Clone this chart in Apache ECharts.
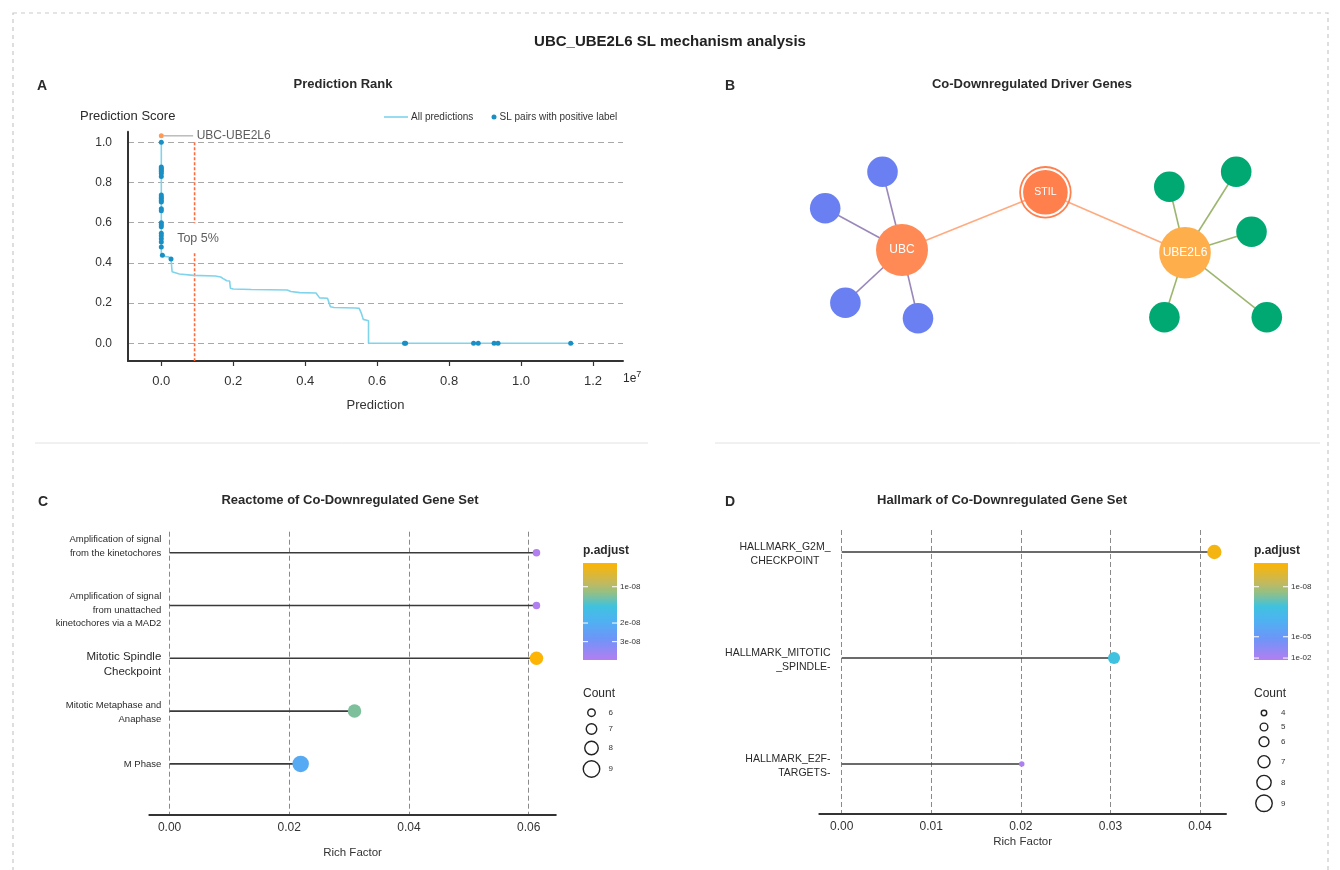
<!DOCTYPE html>
<html><head><meta charset="utf-8">
<script src="https://cdn.jsdelivr.net/npm/echarts@6/dist/echarts.min.js"></script>
<style>html,body{margin:0;padding:0;background:#fff}#c{width:1340px;height:870px}</style>
</head><body><div id="c"></div>
<script>
// ================= DATA =================
// Panel A (prediction rank; x in units of 1e7)
const curveX = [0,0,0.003,0.012,0.02,0.022,0.027,0.03,0.03,0.05,0.09,0.15,0.165,0.172,0.182,0.19,0.192,0.2,0.25,0.35,0.36,0.385,0.43,0.44,0.462,0.47,0.48,0.54,0.55,0.556,0.5615,0.576,0.576,1.14];
const curveY = [1.0,0.44,0.437,0.432,0.43,0.425,0.42,0.415,0.356,0.345,0.338,0.335,0.33,0.322,0.311,0.31,0.274,0.27,0.268,0.265,0.258,0.252,0.25,0.226,0.224,0.182,0.178,0.176,0.174,0.15,0.119,0.112,0.0,0.0];
const posX = [0,0,0,0,0,0,0,0,0,0,0,0,0,0,0,0,0,0,0,0,0,0,0.003,0.027,0.676,0.679,0.868,0.881,0.925,0.936,1.138];
const posY = [1.0,0.877,0.87,0.862,0.855,0.845,0.83,0.738,0.728,0.72,0.71,0.703,0.67,0.66,0.6,0.59,0.58,0.547,0.535,0.52,0.504,0.479,0.438,0.42,0,0,0,0,0,0,0];
const queryPair = {name: 'UBC-UBE2L6', x: 0, y: 1.032};
const top5Rank = 0.0925;
const top5Label = 'Top 5%';
const xTicksA = [0,0.2,0.4,0.6,0.8,1.0,1.2];
const yTicksA = [0,0.2,0.4,0.6,0.8,1.0];

// Panel B (network)
const nodeNames = ['UBC','STIL','UBE2L6','B1','B2','B3','B4','G1','G2','G3','G4','G5'];
const nodeKinds = ['hubA','link','hubB','blue','blue','blue','blue','green','green','green','green','green'];
const nodeLayoutX = [902,1045.4,1185,882.5,825.2,845.4,918,1169.3,1236.2,1251.5,1164.4,1266.8];
const nodeLayoutY = [250,192.3,252.7,171.7,208.3,302.7,318.3,186.7,171.7,231.7,317.3,317.3];
const edgeSource = ['UBC','STIL','B1','B2','B3','B4','G1','G2','G3','G4','G5'];
const edgeTarget = ['STIL','UBE2L6','UBC','UBC','UBC','UBC','UBE2L6','UBE2L6','UBE2L6','UBE2L6','UBE2L6'];

// Panel C (Reactome)
const catC = ['Amplification of signal\nfrom the kinetochores','Amplification of signal\nfrom unattached\nkinetochores via a MAD2','Mitotic Spindle\nCheckpoint','Mitotic Metaphase and\nAnaphase','M Phase'];
const richFactorC = [0.0613,0.0613,0.0613,0.0309,0.0219];
const pAdjC = [4.4e-8,4.4e-8,6.5e-9,1.2e-8,2.1e-8];
const countC = [6,6,8,8,9];
const xTicksC = [0,0.02,0.04,0.06];
const pTicksC = [1e-8,2e-8,3e-8];
const pTickLabelsC = ['1e-08','2e-08','3e-08'];
const countLegendC = [6,7,8,9];

// Panel D (Hallmark)
const catD = ['HALLMARK_G2M_\nCHECKPOINT','HALLMARK_MITOTIC\n_SPINDLE-','HALLMARK_E2F-\nTARGETS-'];
const richFactorD = [0.0416,0.0304,0.0201];
const pAdjD = [6e-10,1.6e-7,9.5e-3];
const countD = [8,7,4];
const xTicksD = [0,0.01,0.02,0.03,0.04];
const pTicksD = [1e-8,1e-5,1e-2];
const pTickLabelsD = ['1e-08','1e-05','1e-02'];
const countLegendD = [4,5,6,7,8,9];

// ================= STYLE / SCALES =================
const FF = '"Liberation Sans", Arial, Helvetica, sans-serif';
const TXT = '#2a2a2a';
const gradStops = [[0,'#ffb400'],[0.2,'#c4b95c'],[0.3,'#97bf82'],[0.45,'#3fc2df'],[0.6,'#4fb1f2'],[0.78,'#6d95f8'],[1,'#b37ef0']];
function hex2rgb(h){return [parseInt(h.slice(1,3),16),parseInt(h.slice(3,5),16),parseInt(h.slice(5,7),16)];}
function colorAt(f){
  f=Math.max(0,Math.min(1,f));
  for(let i=1;i<gradStops.length;i++){
    if(f<=gradStops[i][0]){
      const a=gradStops[i-1],b=gradStops[i];const t=(f-a[0])/(b[0]-a[0]);
      const ca=hex2rgb(a[1]),cb=hex2rgb(b[1]);
      return 'rgb('+ca.map((v,k)=>Math.round(v+(cb[k]-v)*t)).join(',')+')';
    }
  }
  return gradStops[gradStops.length-1][1];
}
// colourbar scales: piecewise linear in log10(p) -> fraction from bar top
const anchorsC = [[-8.196,0],[-8,0.244],[-7.699,0.619],[-7.523,0.81],[-7.35,1]];
const anchorsD = [[-9.42,0],[-8,0.244],[-5,0.76],[-2,0.98],[-1.73,1]];
function fracOf(p,anch){
  const l=Math.log10(p);
  if(l<=anch[0][0])return 0;
  for(let i=1;i<anch.length;i++){ if(l<=anch[i][0]){const a=anch[i-1],b=anch[i];return a[1]+(l-a[0])/(b[0]-a[0])*(b[1]-a[1]);} }
  return 1;
}
const sizeC = c => 7.5 + 3*(c-6);
const sizeD = c => 5.5 + 2.2*(c-4);

// ================= GRAPHICS (titles, legends, frames) =================
const G = [];
function txt(x,y,text,o){o=o||{};G.push({type:'text',x:x,y:y,silent:true,style:{text:text,align:o.align||'left',verticalAlign:'middle',fill:o.color||TXT,fontSize:o.size||12,fontWeight:o.weight||'normal',fontFamily:FF,rich:o.rich}});}
G.push({type:'rect',silent:true,shape:{x:13,y:13,width:1315,height:890},style:{fill:'none',stroke:'#c9c9c9',lineWidth:1.2,lineDash:[4,4]}});
G.push({type:'line',silent:true,shape:{x1:35,y1:443,x2:648,y2:443},style:{stroke:'#e2e2e2',lineWidth:1}});
G.push({type:'line',silent:true,shape:{x1:715,y1:443,x2:1320,y2:443},style:{stroke:'#e2e2e2',lineWidth:1}});
txt(670,42,'UBC_UBE2L6 SL mechanism analysis',{align:'center',size:15,weight:'bold',color:'#222'});
txt(343,84,'Prediction Rank',{align:'center',size:13,weight:'bold'});
txt(1032,84,'Co-Downregulated Driver Genes',{align:'center',size:13,weight:'bold'});
txt(350,500,'Reactome of Co-Downregulated Gene Set',{align:'center',size:13,weight:'bold'});
txt(1002,500,'Hallmark of Co-Downregulated Gene Set',{align:'center',size:13,weight:'bold'});
txt(37,86,'A',{size:14,weight:'bold'});
txt(725,86,'B',{size:14,weight:'bold'});
txt(38,502,'C',{size:14,weight:'bold'});
txt(725,502,'D',{size:14,weight:'bold'});
txt(80,116,'Prediction Score',{size:13});
txt(623,379,'1e{s|7}',{size:12,rich:{s:{fontSize:9,verticalAlign:'top',padding:[0,0,8,0],fontFamily:FF,fill:TXT}}});

function colourBar(x,top,w,h,ticks,labels,anch){
  txt(x,551,'p.adjust',{size:12,weight:'bold'});
  G.push({type:'rect',silent:true,shape:{x:x,y:top,width:w,height:h},style:{fill:{type:'linear',x:0,y:0,x2:0,y2:1,colorStops:gradStops.map(s=>({offset:s[0],color:s[1]}))}}});
  ticks.forEach((p,i)=>{
    const y=top+fracOf(p,anch)*h;
    G.push({type:'line',silent:true,shape:{x1:x,y1:y,x2:x+5,y2:y},style:{stroke:'rgba(255,255,255,0.85)',lineWidth:1.2}});
    G.push({type:'line',silent:true,shape:{x1:x+w-5,y1:y,x2:x+w,y2:y},style:{stroke:'rgba(255,255,255,0.85)',lineWidth:1.2}});
    txt(x+w+3,y,labels[i],{size:8,color:'#333'});
  });
}
function countLegend(x,cx,ys,counts,sizeFn){
  txt(x,694,'Count',{size:12});
  counts.forEach((c,i)=>{
    G.push({type:'circle',silent:true,shape:{cx:cx,cy:ys[i],r:sizeFn(c)/2},style:{fill:'none',stroke:'#222',lineWidth:1.4}});
    txt(cx+17,ys[i],String(c),{size:8,color:'#333'});
  });
}
colourBar(583,563,34,97,pTicksC,pTickLabelsC,anchorsC);
countLegend(583,591.5,[712.7,729,748,769],countLegendC,sizeC);
colourBar(1254,563,34,97,pTicksD,pTickLabelsD,anchorsD);
countLegend(1254,1264,[713,727,741.7,761.7,782.5,803.3],countLegendD,sizeD);

// ================= SERIES DATA =================
const curveData = curveX.map((x,i)=>[x,curveY[i]]);
const posData = posX.map((x,i)=>[x,posY[i]]);
const top5Data = [[top5Rank,1.0],[top5Rank,0.597],[top5Rank,null],[top5Rank,0.448],[top5Rank,-0.088]];

const nodeColor = {hubA:'#ff8a55',link:'#ff7f4d',hubB:'#ffae4c',blue:'#6a80f2',green:'#00a872'};
const nodeSize = {hubA:52,link:52.4,hubB:51.6,blue:30.6,green:30.6};
const ringPath = 'path://M50,0A50,50,0,1,1,50,100A50,50,0,1,1,50,0ZM50,3.4A46.6,46.6,0,1,0,50,96.6A46.6,46.6,0,1,0,50,3.4ZM50,7.4A42.6,42.6,0,1,1,50,92.6A42.6,42.6,0,1,1,50,7.4Z';
const nodes = nodeNames.map((n,i)=>{
  const k=nodeKinds[i]; const hub = (k==='hubA'||k==='hubB'||k==='link');
  return {name:n,x:nodeLayoutX[i],y:nodeLayoutY[i],symbol:k==='link'?ringPath:'circle',symbolSize:nodeSize[k],
    itemStyle:{color:nodeColor[k],opacity:1},
    label:{show:hub,color:'#fff',fontSize:k==='link'?10.5:12,fontFamily:FF}};
});
const edgeColor = (s)=>{
  const ks=nodeKinds[nodeNames.indexOf(s)];
  if(ks==='blue')return '#9a88bb';
  if(ks==='green')return '#9db66f';
  return '#ffab80';
};
const links = edgeSource.map((s,i)=>({source:s,target:edgeTarget[i],lineStyle:{color:edgeColor(s),width:1.6,opacity:1}}));
const xMin=Math.min(...nodeLayoutX), xMax=Math.max(...nodeLayoutX), yMin=Math.min(...nodeLayoutY), yMax=Math.max(...nodeLayoutY);

// Lollipop labels
const richStyleC = {
  s:{fontSize:9.5,lineHeight:13.5,align:'right',color:TXT,fontFamily:FF},
  b:{fontSize:11.5,lineHeight:15,align:'right',color:TXT,fontFamily:FF}
};
const shiftC = [[0,13],[9.4,0],[13,0],[2.6,0],[0,0]]; // spacer line heights [top,bottom]
shiftC.forEach((s,i)=>{richStyleC['t'+i]={fontSize:1,lineHeight:s[0]||1};richStyleC['u'+i]={fontSize:1,lineHeight:s[1]||1};});
function fmtC(v){
  const i=Math.round(v); const st = i===2?'b':'s';
  let body = catC[i].split('\n').map(l=>'{'+st+'|'+l+'}').join('\n');
  if(shiftC[i][0])body='{t'+i+'| }\n'+body;
  if(shiftC[i][1])body=body+'\n{u'+i+'| }';
  return body;
}
const richStyleD = {
  c:{fontSize:10.5,lineHeight:14.5,align:'center',color:TXT,fontFamily:FF},
  r:{fontSize:10.5,lineHeight:14.5,align:'right',color:TXT,fontFamily:FF}
};
function fmtD(v){
  const i=Math.round(v); const st=i===0?'c':'r';
  return catD[i].split('\n').map(l=>'{'+st+'|'+l+'}').join('\n');
}
const stem = (params,api)=>{
  const p0=api.coord([0,api.value(1)]), p1=api.coord([api.value(0),api.value(1)]);
  return {type:'line',shape:{x1:p0[0],y1:p0[1],x2:p1[0],y2:p1[1]},style:{stroke:'#3a3a3a',lineWidth:1.6}};
};
const dotsC = richFactorC.map((v,i)=>({value:[v,i],symbolSize:sizeC(countC[i]),itemStyle:{color:colorAt(fracOf(pAdjC[i],anchorsC)),opacity:1}}));
const dotsD = richFactorD.map((v,i)=>({value:[v,i],symbolSize:sizeD(countD[i]),itemStyle:{color:colorAt(fracOf(pAdjD[i],anchorsD)),opacity:1}}));

const axLine = {onZero:false,lineStyle:{color:'#333',width:2}};
const chart = echarts.init(document.getElementById('c'),null,{renderer:'canvas'});
chart.setOption({
  animation:false,
  backgroundColor:'#fff',
  textStyle:{fontFamily:FF},
  graphic:{elements:G},
  legend:[
    {data:[{name:'All predictions',icon:'rect'}],left:384,top:112,padding:0,itemWidth:24,itemHeight:1.6,itemGap:0,selectedMode:false,textStyle:{fontSize:10,color:'#333',fontFamily:FF,padding:[0,0,0,-2]}},
    {data:[{name:'SL pairs with positive label',icon:'circle'}],left:491.5,top:112,padding:0,itemWidth:5,itemHeight:5,selectedMode:false,textStyle:{fontSize:10,color:'#333',fontFamily:FF,padding:[0,0,0,-2]}}
  ],
  grid:[
    {left:128,top:131.7,width:495,height:229.3},
    {left:149.3,top:531.7,width:406.5,height:283.3},
    {left:819.3,top:530,width:406.7,height:284}
  ],
  xAxis:[
    {gridIndex:0,type:'value',min:-0.0926,max:1.2834,axisLine:axLine,
     axisTick:{show:true,customValues:xTicksA,length:5,lineStyle:{color:'#333',width:1.2}},
     axisLabel:{customValues:xTicksA,formatter:v=>v.toFixed(1),fontSize:13,color:'#333',margin:14},
     splitLine:{show:false},name:'Prediction',nameLocation:'middle',nameGap:38,nameTextStyle:{fontSize:13,color:'#333'}},
    {gridIndex:1,type:'value',min:-0.00339,max:0.06453,axisLine:axLine,
     axisTick:{show:false,customValues:xTicksC},
     axisLabel:{customValues:xTicksC,formatter:v=>v.toFixed(2),fontSize:12,color:'#333',margin:7},
     splitLine:{show:true,lineStyle:{type:[5,3],color:'#8a8a8a',width:1}},
     name:'Rich Factor',nameLocation:'middle',nameGap:32,nameTextStyle:{fontSize:11.5,color:'#333'}},
    {gridIndex:2,type:'value',min:-0.0025,max:0.0429,axisLine:axLine,
     axisTick:{show:false,customValues:xTicksD},
     axisLabel:{customValues:xTicksD,formatter:v=>v.toFixed(2),fontSize:12,color:'#333',margin:7},
     splitLine:{show:true,lineStyle:{type:[5,3],color:'#8a8a8a',width:1}},
     name:'Rich Factor',nameLocation:'middle',nameGap:22,nameTextStyle:{fontSize:11.5,color:'#333'}}
  ],
  yAxis:[
    {gridIndex:0,type:'value',min:-0.088,max:1.0527,axisLine:{show:true,onZero:false,lineStyle:{color:'#333',width:2}},
     axisTick:{show:false,customValues:yTicksA},
     axisLabel:{customValues:yTicksA,formatter:v=>v.toFixed(1),fontSize:12,color:'#333',margin:16},
     splitLine:{show:true,lineStyle:{type:[6,4],color:'#a8a8a8',width:1.2}}},
    {gridIndex:1,type:'value',inverse:true,min:-0.398,max:4.968,axisLine:{show:false,onZero:false},
     axisTick:{show:false,customValues:[0,1,2,3,4]},splitLine:{show:false},
     axisLabel:{customValues:[0,1,2,3,4],formatter:fmtC,rich:richStyleC,margin:-12}},
    {gridIndex:2,type:'value',inverse:true,min:-0.2075,max:2.4717,axisLine:{show:false,onZero:false},
     axisTick:{show:false,customValues:[0,1,2]},splitLine:{show:false},
     axisLabel:{customValues:[0,1,2],formatter:fmtD,rich:richStyleD,margin:-11.2,padding:[4,0,0,0]}}
  ],
  series:[
    {name:'All predictions',type:'line',xAxisIndex:0,yAxisIndex:0,data:curveData,symbol:'none',lineStyle:{color:'#7fd4ec',width:1.6},itemStyle:{color:'#7fd4ec'},z:3,silent:true},
    {name:'SL pairs with positive label',type:'scatter',xAxisIndex:0,yAxisIndex:0,data:posData,symbolSize:5,itemStyle:{color:'#1a8fc4',opacity:1},z:4,silent:true},
    {name:'top5',type:'line',xAxisIndex:0,yAxisIndex:0,data:top5Data,symbol:'none',connectNulls:false,lineStyle:{color:'#ff6a3d',width:1.6,type:[3,2]},z:2,silent:true},
    {name:'leader',type:'line',xAxisIndex:0,yAxisIndex:0,data:[[queryPair.x+0.006,queryPair.y],[top5Rank-0.004,queryPair.y]],symbol:'none',lineStyle:{color:'#9a9a9a',width:1},z:2,silent:true},
    {name:'query',type:'scatter',xAxisIndex:0,yAxisIndex:0,data:[[queryPair.x,queryPair.y]],symbolSize:5,itemStyle:{color:'#ff9a55',opacity:1},z:5,silent:true},
    {name:'queryLabel',type:'scatter',xAxisIndex:0,yAxisIndex:0,data:[[top5Rank-0.004,queryPair.y]],symbolSize:1,itemStyle:{color:'rgba(0,0,0,0)'},
     label:{show:true,position:'right',distance:3,formatter:queryPair.name,fontSize:12,color:'#333',fontFamily:FF},z:5,silent:true},
    {name:'top5Label',type:'scatter',xAxisIndex:0,yAxisIndex:0,data:[[0.102,0.522]],symbolSize:1,itemStyle:{color:'rgba(0,0,0,0)'},
     label:{show:true,position:'inside',formatter:top5Label,fontSize:12.5,color:'#333',fontFamily:FF},z:5,silent:true},
    {type:'graph',layout:'none',roam:false,left:xMin,top:yMin,width:xMax-xMin,height:yMax-yMin,
     data:nodes,links:links,label:{position:'inside'},emphasis:{disabled:true},silent:true,z:3},
    {type:'custom',xAxisIndex:1,yAxisIndex:1,renderItem:stem,data:richFactorC.map((v,i)=>[v,i]),encode:{x:0,y:1},z:2,silent:true},
    {type:'scatter',xAxisIndex:1,yAxisIndex:1,data:dotsC,z:3,silent:true},
    {type:'custom',xAxisIndex:2,yAxisIndex:2,renderItem:stem,data:richFactorD.map((v,i)=>[v,i]),encode:{x:0,y:1},z:2,silent:true},
    {type:'scatter',xAxisIndex:2,yAxisIndex:2,data:dotsD,z:3,silent:true}
  ]
});
</script></body></html>
